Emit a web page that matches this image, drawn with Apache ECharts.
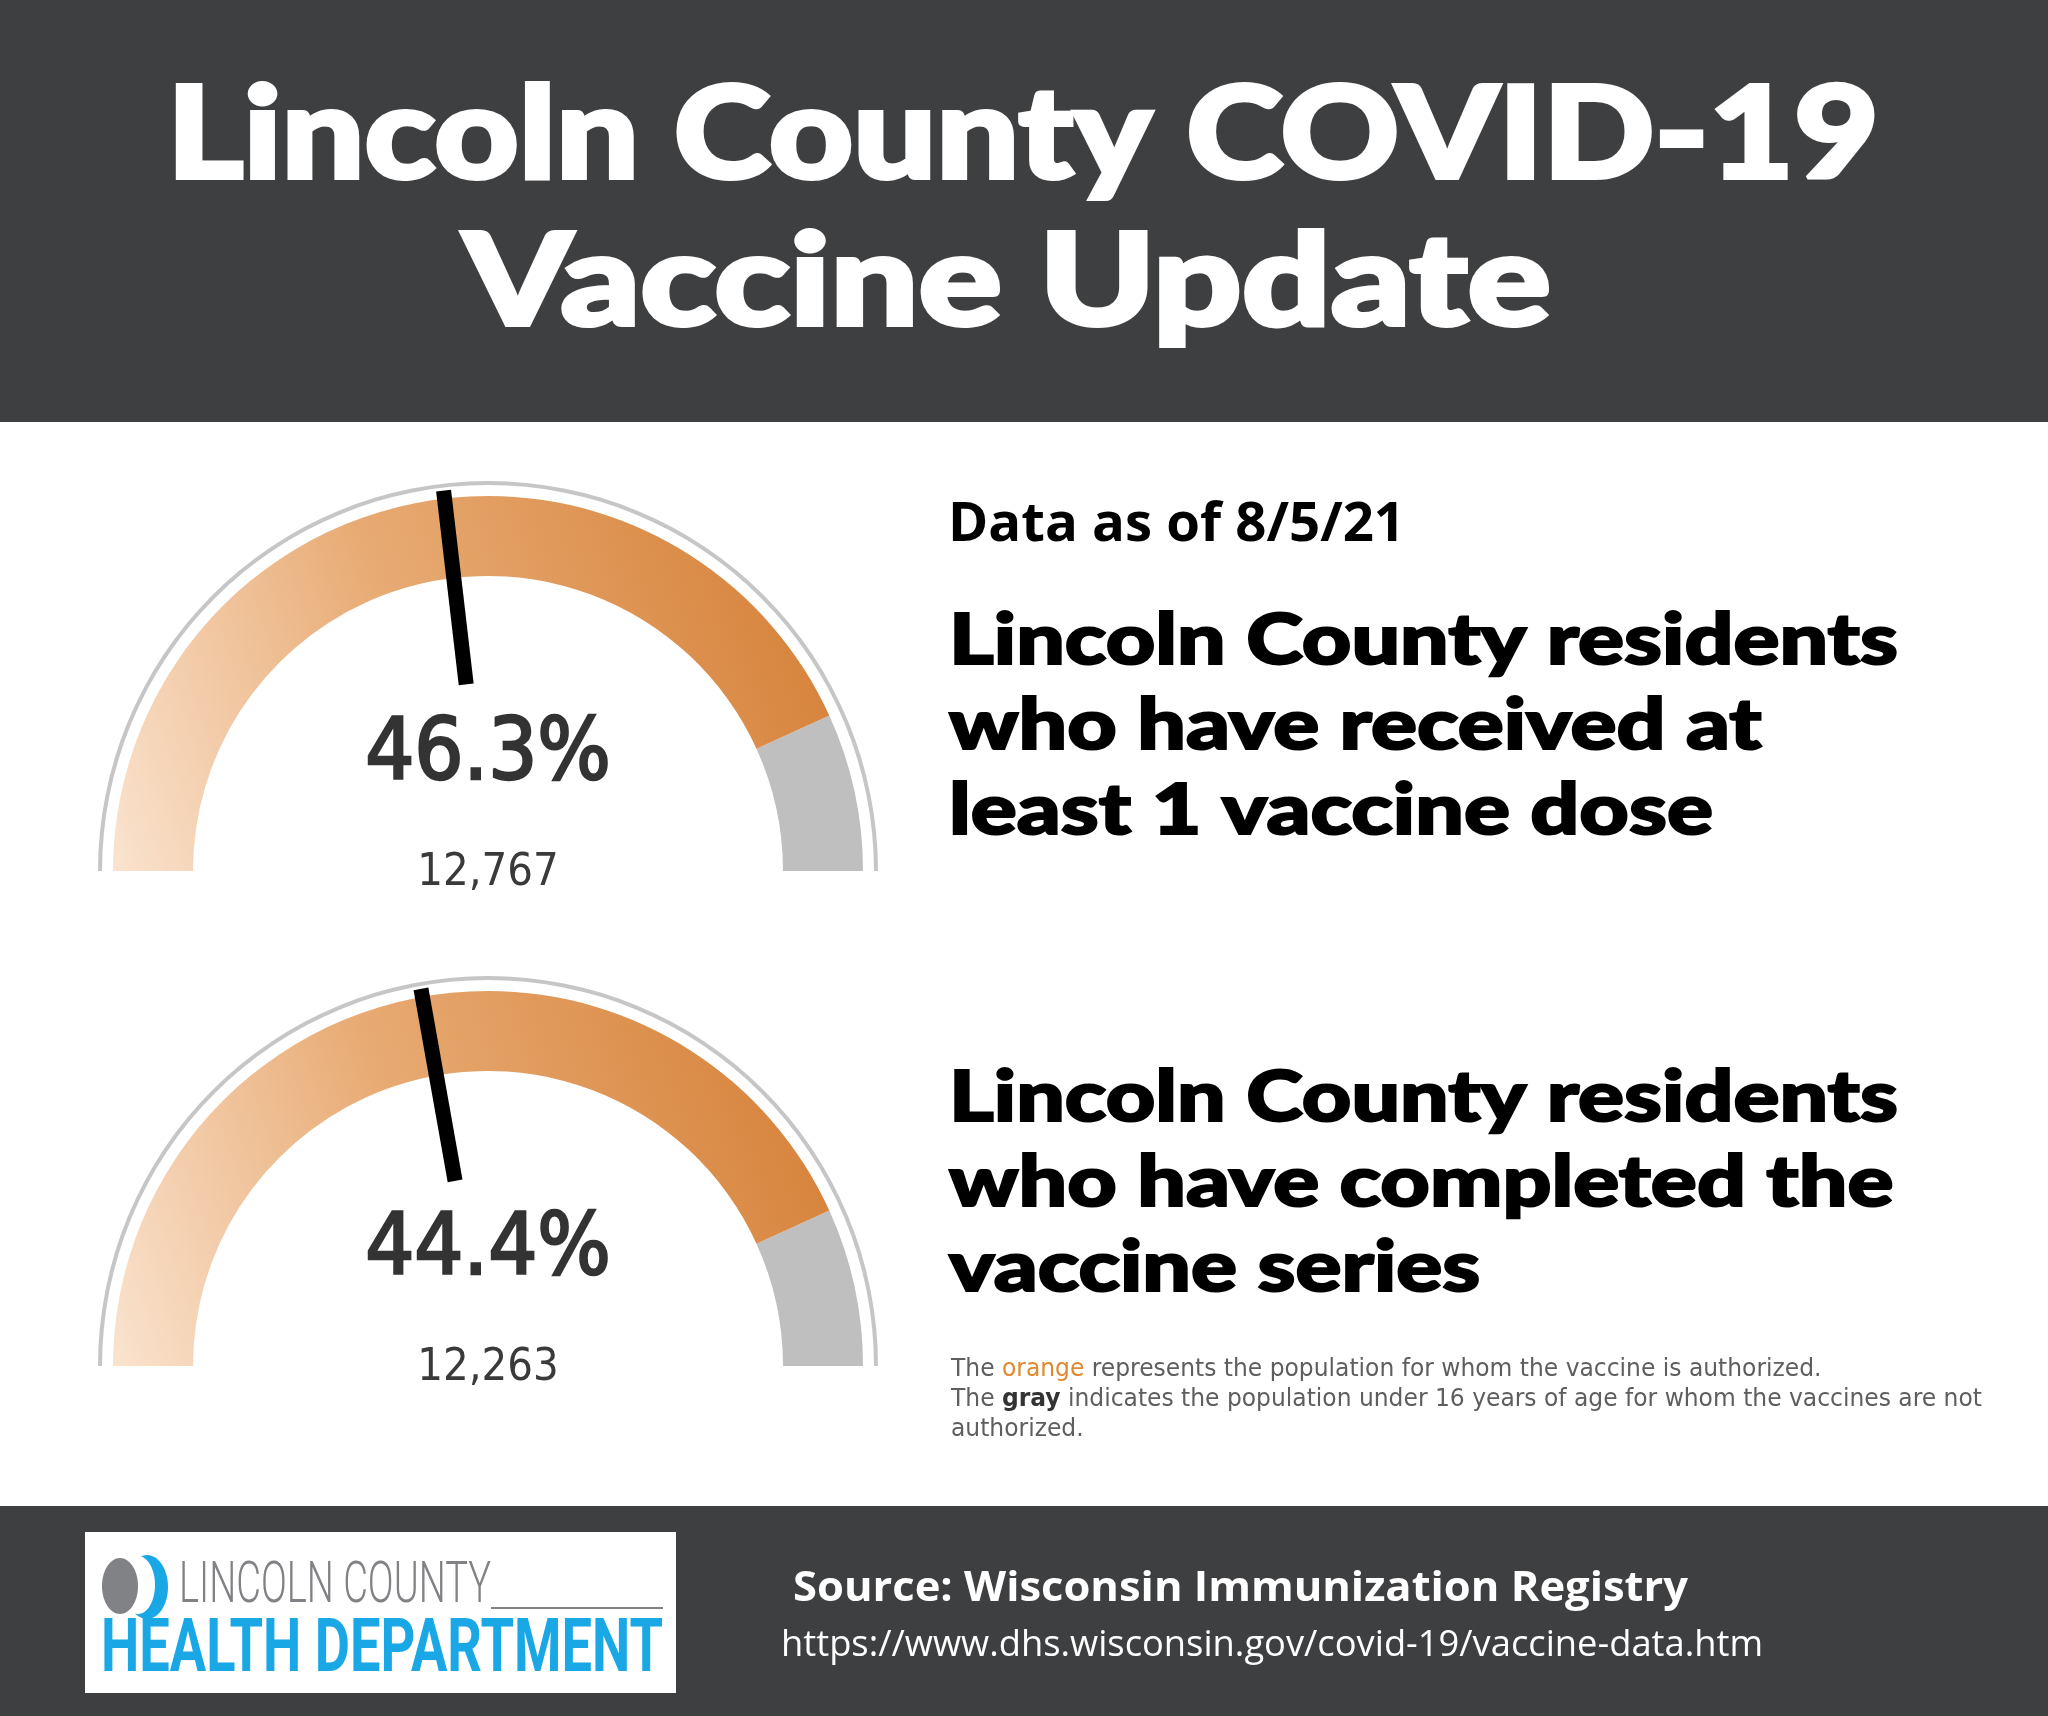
<!DOCTYPE html>
<html>
<head>
<meta charset="utf-8">
<script src="https://cdn.jsdelivr.net/npm/echarts@6/dist/echarts.min.js"></script>
<style>
  html, body { margin: 0; padding: 0; background: #fff; }
  #main { width: 2048px; height: 1716px; }
</style>
</head>
<body>
<div id="main"></div>
<script>
// values
const gaugeNames = ['At least 1 dose', 'Completed series'];
const percentValues = [46.3, 44.4];
const residentCounts = ['12,767', '12,263'];
const authorizedShare = 0.864; // orange part of each dial, the rest is gray (under 16)
const gaugeCenters = [[488, 871], [488, 1366]];

const headingLines = [
  ['Lincoln County residents', 'who have received at', 'least 1 vaccine dose'],
  ['Lincoln County residents', 'who have completed the', 'vaccine series']
];
const headingBaselines = [[666, 751, 836], [1123, 1208, 1293]];

const DARK = '#3e3f41';
const COND = 'DejaVu Sans Condensed';

// measure text so we can squeeze it to the width seen in the picture
const ctx = document.createElement('canvas').getContext('2d');
function fitScale(text, weight, size, family, width) {
  ctx.font = weight + ' ' + size + 'px ' + family;
  return width / ctx.measureText(text).width;
}

function txt(text, x, y, size, family, weight, fill, opts) {
  opts = opts || {};
  const style = {
    text: text, fill: fill,
    fontSize: size, fontFamily: family, fontWeight: weight,
    textAlign: opts.align || 'left', textVerticalAlign: 'middle',
    rich: opts.rich
  };
  if (opts.thick) { style.stroke = fill; style.lineWidth = opts.thick; }
  return { type: 'text', x: x, y: y, z: 10, scaleX: opts.scaleX || 1, style: style };
}

const orangeGrad = new echarts.graphic.LinearGradient(0, 1, 1, 0.35, [
  { offset: 0, color: '#fae3cf' },
  { offset: 0.45, color: '#e8ab74' },
  { offset: 1, color: '#d6823a' }
]);

const series = [];
percentValues.forEach(function (v, i) {
  const c = gaugeCenters[i];
  // thin outer rim
  series.push({
    type: 'gauge', center: c, radius: 390, startAngle: 180, endAngle: 0,
    min: 0, max: 100, silent: true,
    axisLine: { lineStyle: { width: 4, color: [[1, '#c6c6c6']] } },
    splitLine: { show: false }, axisTick: { show: false }, axisLabel: { show: false },
    pointer: { show: false }, anchor: { show: false },
    title: { show: false }, detail: { show: false },
    data: [{ value: 0 }]
  });
  // the dial itself
  series.push({
    name: gaugeNames[i],
    type: 'gauge', center: c, radius: 375, startAngle: 180, endAngle: 0,
    min: 0, max: 100,
    axisLine: { lineStyle: { width: 80, color: [[authorizedShare, orangeGrad], [1, '#bfbfbf']] } },
    splitLine: { show: false }, axisTick: { show: false }, axisLabel: { show: false },
    pointer: { icon: 'rect', length: 195, width: 15, offsetCenter: [0, -188], itemStyle: { color: '#000' } },
    anchor: { show: false },
    title: { offsetCenter: [0, 2], fontSize: 45, color: '#3a3a3a', fontFamily: COND },
    detail: {
      offsetCenter: [0, -114], formatter: '{value}%', fontSize: 86,
      color: '#333', fontFamily: COND, fontWeight: 'normal',
      textBorderColor: '#333', textBorderWidth: 2.5
    },
    data: [{ value: v, name: residentCounts[i] }]
  });
});

const graphic = [
  { type: 'rect', shape: { x: 0, y: 0, width: 2048, height: 422 }, style: { fill: DARK } },
  { type: 'rect', shape: { x: 0, y: 1506, width: 2048, height: 210 }, style: { fill: DARK } },
  { type: 'rect', shape: { x: 85, y: 1532, width: 591, height: 161 }, style: { fill: '#fff' } }
];

// header title
const T1 = 'Lincoln County COVID-19', T2 = 'Vaccine Update';
graphic.push(txt(T1, 1023, 137, 128, 'Lato', 900, '#fff',
  { align: 'center', thick: 4, scaleX: fitScale(T1, 900, 128, 'Lato', 1712) }));
graphic.push(txt(T2, 1007, 284, 128, 'Lato', 900, '#fff',
  { align: 'center', thick: 4, scaleX: fitScale(T2, 900, 128, 'Lato', 1088) }));

// right side text
const dateText = 'Data as of 8/5/21';
graphic.push(txt(dateText, 948, 526, 54, 'Open Sans', 700, '#000',
  { scaleX: fitScale(dateText, 700, 54, 'Open Sans', 457) }));

const headScale = fitScale(headingLines[0][0], 900, 70, 'Lato', 949);
headingLines.forEach(function (lines, b) {
  lines.forEach(function (line, k) {
    graphic.push(txt(line, 949, headingBaselines[b][k] - 25, 70, 'Lato', 900, '#000',
      { scaleX: headScale, thick: 2 }));
  });
});

// note under the second heading
const noteLines = [
  'The {o|orange} represents the population for whom the vaccine is authorized.',
  'The {g|gray} indicates the population under 16 years of age for whom the vaccines are not',
  'authorized.'
];
const noteScale = fitScale('The gray indicates the population under 16 years of age for whom the vaccines are not',
  'normal', 24, COND, 1025);
const noteRich = { o: { fill: '#e0892e', fontSize: 24, fontFamily: COND },
                   g: { fill: '#333', fontSize: 24, fontWeight: 'bold', fontFamily: COND } };
noteLines.forEach(function (line, k) {
  graphic.push(txt(line, 951, 1370 + k * 30, 24, COND, 'normal', '#5e5e5e',
    { scaleX: noteScale, rich: noteRich }));
});

// footer
const src = 'Source: Wisconsin Immunization Registry';
const url = 'https://www.dhs.wisconsin.gov/covid-19/vaccine-data.htm';
graphic.push(txt(src, 793, 1589, 42, 'Open Sans', 700, '#fff', { scaleX: fitScale(src, 700, 42, 'Open Sans', 895) }));
graphic.push(txt(url, 781, 1645, 37, 'Open Sans', 'normal', '#fff', { scaleX: fitScale(url, 'normal', 37, 'Open Sans', 982) }));

// logo
graphic.push(
  { type: 'ellipse', z: 10, shape: { cx: 147, cy: 1587, rx: 21, ry: 32 }, style: { fill: '#1aa7e6' } },
  { type: 'ellipse', z: 10, shape: { cx: 138, cy: 1585, rx: 17, ry: 29 }, style: { fill: '#fff' } },
  { type: 'ellipse', z: 10, shape: { cx: 120, cy: 1586, rx: 18, ry: 28 }, style: { fill: '#808285' } },
  { type: 'circle', z: 11, shape: { cx: 136, cy: 1559, r: 6 }, style: { fill: '#fff' } },
  { type: 'line', z: 10, shape: { x1: 491, y1: 1608, x2: 663, y2: 1608 }, style: { stroke: '#808285', lineWidth: 2 } }
);
const lc = 'LINCOLN COUNTY', hd = 'HEALTH DEPARTMENT';
graphic.push(txt(lc, 179, 1587, 58, 'Roboto', 300, '#808285',
  { scaleX: fitScale(lc, 300, 58, 'Roboto', 312) }));
graphic.push(txt(hd, 101, 1652, 74, 'Roboto', 'bold', '#1aa7e6',
  { scaleX: fitScale(hd, 'bold', 74, 'Roboto', 562) }));

const chart = echarts.init(document.getElementById('main'));
chart.setOption({
  backgroundColor: '#fff',
  animation: false,
  graphic: graphic,
  series: series
});
</script>
</body>
</html>
